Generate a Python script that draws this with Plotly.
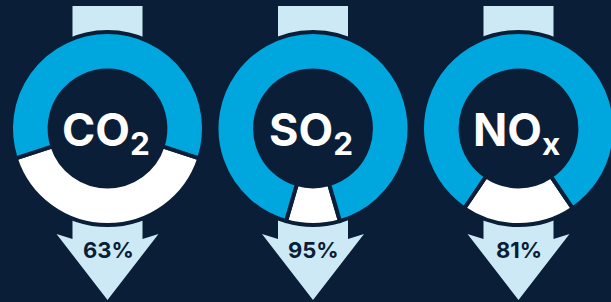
import plotly.graph_objects as go

# ---- data ----
pollutants = ["CO<sub>2</sub>", "SO<sub>2</sub>", "NO<sub>x</sub>"]
reduction_labels = ["63%", "95%", "81%"]
ring_blue_share = [60, 91, 81]    # share of ring drawn in blue
ring_white_share = [40, 9, 19]    # share of ring drawn in white

# ---- style ----
BG = "#0a1e37"
BLUE = "#00a6de"
WHITE = "#ffffff"
LIGHT = "#cde9f6"
FONT = "Inter"

W, H = 622, 302
centers_x = [107.5, 313.0, 518.5]
cy = 128.5
R = 96.5
HOLE = 0.6
LW = 4

def px(x):
    return x / W

def py(y):
    return 1 - y / H

fig = go.Figure()
shapes = []
annotations = []

for i, name in enumerate(pollutants):
    cx = centers_x[i]
    white = ring_white_share[i]
    blue = ring_blue_share[i]
    fig.add_trace(go.Pie(
        values=[white, blue],
        labels=["remaining", "reduced"],
        marker=dict(colors=[WHITE, BLUE], line=dict(color=BG, width=LW)),
        hole=HOLE,
        sort=False,
        direction="clockwise",
        rotation=180 - white / (white + blue) * 360 / 2,
        textinfo="none",
        hoverinfo="skip",
        showlegend=False,
        domain=dict(x=[px(cx - R), px(cx + R)], y=[py(cy + R), py(cy - R)]),
    ))
    # top bar of arrow
    shapes.append(dict(type="rect", xref="paper", yref="paper",
                       x0=px(cx - 35), x1=px(cx + 35), y0=py(70), y1=py(6),
                       fillcolor=LIGHT, line=dict(width=0), layer="below"))
    # bottom arrow head
    pts = [(cx - 35, 200), (cx - 35, 239), (cx - 51, 234), (cx, 300),
           (cx + 51, 234), (cx + 35, 239), (cx + 35, 200)]
    path = "M " + " L ".join(f"{px(x):.5f},{py(y):.5f}" for x, y in pts) + " Z"
    shapes.append(dict(type="path", xref="paper", yref="paper", path=path,
                       fillcolor=LIGHT, line=dict(width=0), layer="below"))
    annotations.append(dict(x=px(cx - 2), y=py(cy + 4), xref="paper", yref="paper",
                            text=f"<b>{name}</b>", showarrow=False,
                            xanchor="center", yanchor="middle",
                            font=dict(family=FONT, size=45, color=WHITE)))
    annotations.append(dict(x=px(cx + 0.5), y=py(250), xref="paper", yref="paper",
                            text=f"<b>{reduction_labels[i]}</b>", showarrow=False,
                            xanchor="center", yanchor="middle",
                            font=dict(family=FONT, size=22, color=BG)))

fig.update_layout(
    width=W, height=H,
    margin=dict(l=0, r=0, t=0, b=0),
    paper_bgcolor=BG, plot_bgcolor=BG,
    shapes=shapes, annotations=annotations,
)

fig.write_html("out.html", config={"displayModeBar": False},
               post_script="document.body.style.margin='0';document.body.style.overflow='hidden';")
